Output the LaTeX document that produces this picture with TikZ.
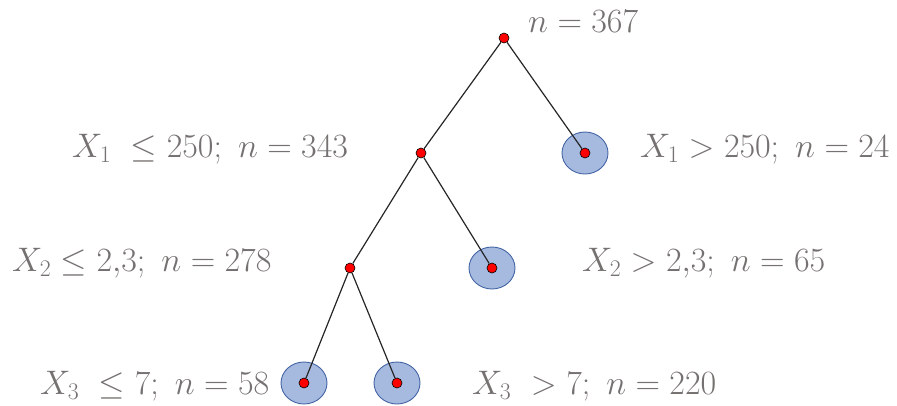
\RequirePackage{fix-cm}
\documentclass[tikz,border=0pt]{standalone}
\usepackage{amsmath}
\usepackage{amssymb}
\usetikzlibrary{shapes.geometric}

\definecolor{labelgray}{RGB}{118,113,113}
\definecolor{leaffill}{RGB}{166,186,224}
\definecolor{leafdraw}{RGB}{68,100,165}

\begin{document}
\begin{tikzpicture}[x=1pt, y=-1pt,
    dot/.style={circle, fill=red, draw=black, line width=0.6pt, minimum size=10pt, inner sep=0pt},
    leaf/.style={ellipse, fill=leaffill, draw=leafdraw, line width=0.9pt, minimum width=46pt, minimum height=42pt, inner sep=0pt},
    edge/.style={draw=black!85, line width=1.2pt},
    lbl/.style={text=labelgray, anchor=base west, inner sep=0pt, font=\fontsize{34}{40}\selectfont}]
    \useasboundingbox (0,0) rectangle (897,405);

    % Leaf discs
    \node[leaf] (L1) at (585,153) {};
    \node[leaf] (L2) at (492,268) {};
    \node[leaf] (L3) at (304,383) {};
    \node[leaf] (L4) at (397,383) {};

    % Split points
    \node[dot] (S0) at (504,38) {};
    \node[dot] (S1) at (421,153) {};
    \node[dot] (S2) at (350,268) {};

    % Leaf points
    \foreach \k in {1,...,4} {
        \node[dot] (d\k) at (L\k.center) {};
    }

    % Edges
    \draw[edge] (S0) -- (S1);
    \draw[edge] (S0) -- (d1);
    \draw[edge] (S1) -- (S2);
    \draw[edge] (S1) -- (d2);
    \draw[edge] (S2) -- (d3);
    \draw[edge] (S2) -- (d4);

    % Labels
    \node[lbl] (t0) at (528,32) {$n = 367$};
    \node[lbl] (t1) at (72,157) {$X_1\ \leq 250;\ n = 343$};
    \node[lbl] (t2) at (640,157) {$X_1 > 250;\ n = 24$};
    \node[lbl] (t3) at (12,271) {$X_2 \leq 2{,}3;\ n = 278$};
    \node[lbl] (t4) at (582,271) {$X_2 > 2{,}3;\ n = 65$};
    \node[lbl] (t5) at (40,394) {$X_3\ \leq 7;\ n = 58$};
    \node[lbl] (t6) at (472,394) {$X_3\ > 7;\ n = 220$};
\end{tikzpicture}
\end{document}
